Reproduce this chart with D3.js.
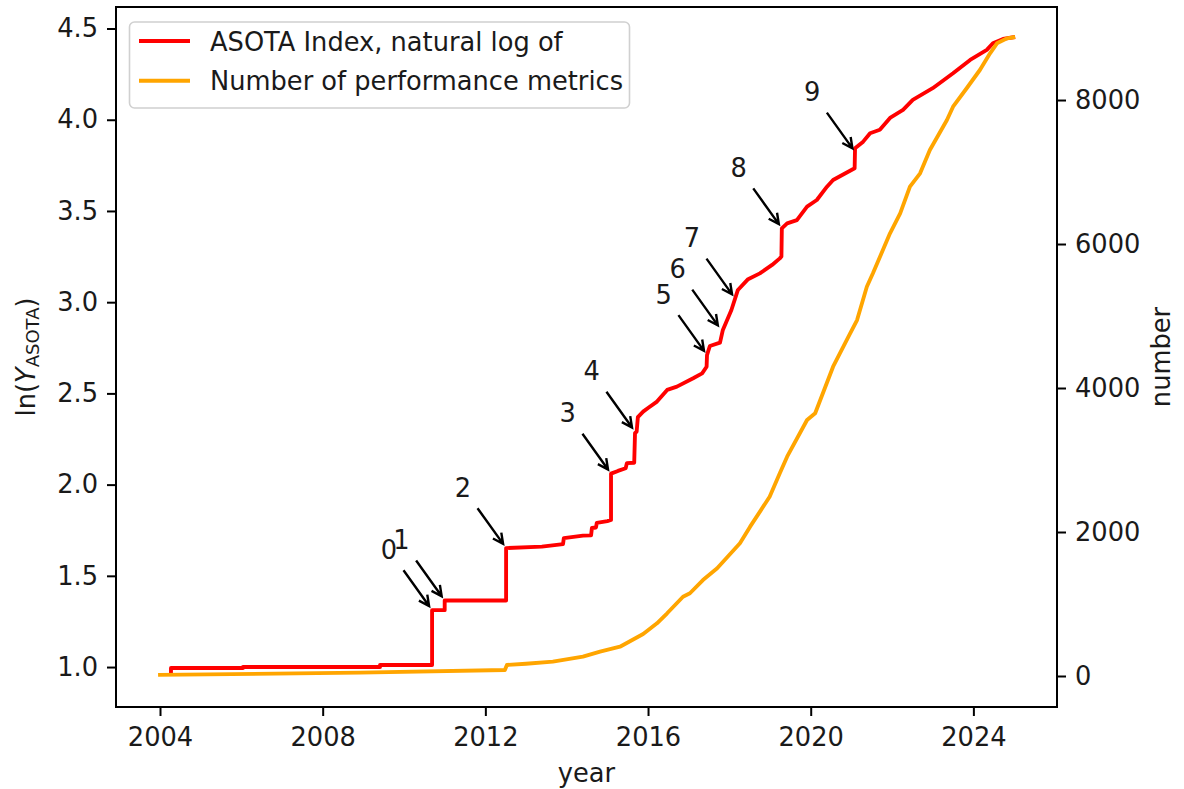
<!DOCTYPE html>
<html>
<head>
<meta charset="utf-8">
<script src="https://cdn.jsdelivr.net/npm/d3@7"></script>
<style>
  body { margin: 0; background: #fff; }
  svg { display: block; font-family: "DejaVu Sans", sans-serif; }
  .tick text { font-size: 25.7px; fill: #1a1a1a; }
</style>
</head>
<body>
<svg width="1184" height="789"></svg>
<script>
// ASOTA index (natural log), step vertices [year, ln value]
const asotaIndex = [
  [2004.27, 0.962], [2004.27, 0.995], [2006.04, 0.995], [2006.04, 1.0], [2009.41, 1.0],
  [2009.41, 1.011], [2010.69, 1.011], [2010.69, 1.312], [2011.0, 1.312], [2011.0, 1.365],
  [2012.51, 1.365], [2012.51, 1.652], [2013.39, 1.66], [2013.91, 1.674], [2013.93, 1.707],
  [2014.4, 1.72], [2014.6, 1.722], [2014.62, 1.762], [2014.72, 1.765], [2014.74, 1.79],
  [2015.0, 1.8], [2015.09, 1.806], [2015.09, 2.06], [2015.26, 2.075], [2015.45, 2.09],
  [2015.48, 2.118], [2015.66, 2.12], [2015.68, 2.283], [2015.72, 2.29], [2015.75, 2.37],
  [2015.88, 2.4], [2016.0, 2.42], [2016.22, 2.455], [2016.47, 2.519], [2016.71, 2.537],
  [2017.11, 2.583], [2017.33, 2.61], [2017.44, 2.646], [2017.45, 2.71], [2017.52, 2.76],
  [2017.77, 2.778], [2017.84, 2.848], [2018.05, 2.957], [2018.21, 3.067], [2018.46, 3.126],
  [2018.75, 3.158], [2019.05, 3.204], [2019.24, 3.24], [2019.28, 3.25], [2019.29, 3.405],
  [2019.42, 3.432], [2019.66, 3.45], [2019.91, 3.524], [2020.15, 3.56], [2020.4, 3.633],
  [2020.55, 3.67], [2021.08, 3.734], [2021.09, 3.844], [2021.29, 3.88], [2021.46, 3.926],
  [2021.7, 3.945], [2021.95, 4.01], [2022.27, 4.054], [2022.51, 4.109], [2023.0, 4.173],
  [2023.5, 4.255], [2023.92, 4.328], [2024.33, 4.383], [2024.48, 4.419], [2024.73, 4.443],
  [2024.98, 4.452]
];

// cumulative number of performance metrics [year, count]
const metricCount = [
  [2004.0, 15], [2008.92, 46], [2012.48, 83], [2012.53, 153], [2013.0, 170], [2013.66, 199],
  [2014.4, 268], [2014.82, 338], [2015.31, 407], [2015.88, 583], [2016.22, 732],
  [2016.47, 871], [2016.86, 1101], [2017.03, 1149], [2017.35, 1333], [2017.7, 1496],
  [2018.26, 1843], [2018.51, 2074], [2018.99, 2490], [2019.24, 2815], [2019.42, 3046],
  [2019.91, 3556], [2020.11, 3649], [2020.55, 4296], [2020.97, 4760], [2021.14, 4944],
  [2021.38, 5407], [2021.53, 5593], [2021.95, 6149], [2022.2, 6426], [2022.44, 6796],
  [2022.69, 6982], [2022.93, 7306], [2023.35, 7722], [2023.5, 7907], [2023.84, 8167],
  [2024.16, 8417], [2024.41, 8649], [2024.58, 8788], [2024.83, 8857], [2024.98, 8871]
];

// annotated jumps
const annLabels = ['0', '1', '2', '3', '4', '5', '6', '7', '8', '9'];
const annYears = [2010.69, 2011.0, 2012.51, 2015.09, 2015.68, 2017.45, 2017.79, 2018.14, 2019.29, 2021.1];
const annValues = [1.312, 1.365, 1.652, 2.06, 2.29, 2.71, 2.85, 3.02, 3.405, 3.82];

const xTicks = [2004, 2008, 2012, 2016, 2020, 2024];
const yTicks = [1.0, 1.5, 2.0, 2.5, 3.0, 3.5, 4.0, 4.5];
const y2Ticks = [0, 2000, 4000, 6000, 8000];

const seriesNames = ['ASOTA Index, natural log of', 'Number of performance metrics'];
const seriesColors = ['red', 'orange'];

const pt = 2.57; // px per point
const plotL = 116, plotR = 1057, plotT = 7, plotB = 707;

const svg = d3.select('svg');

const x = d3.scaleLinear().domain([2002.918, 2026.056]).range([plotL, plotR]);
const y = d3.scaleLinear().domain([0.781, 4.618]).range([plotB, plotT]);
const y2 = d3.scaleLinear().domain([-430.6, 9292]).range([plotB, plotT]);

// axes
const gx = svg.append('g')
  .attr('transform', `translate(0,${plotB})`)
  .call(d3.axisBottom(x).tickValues(xTicks).tickFormat(d3.format('d')).tickSize(9).tickPadding(9));
gx.selectAll('text').attr('y', 39).attr('dy', null);

const gy = svg.append('g')
  .attr('transform', `translate(${plotL},0)`)
  .call(d3.axisLeft(y).tickValues(yTicks).tickFormat(d3.format('.1f')).tickSize(9).tickPadding(9));

const gy2 = svg.append('g')
  .attr('transform', `translate(${plotR},0)`)
  .call(d3.axisRight(y2).tickValues(y2Ticks).tickFormat(d3.format('d')).tickSize(9).tickPadding(9));

[gx, gy, gy2].forEach((g) => {
  g.select('.domain').remove();
  g.selectAll('.tick line').attr('stroke', '#000').attr('stroke-width', 2);
  g.attr('font-family', null).attr('font-size', null);
});

// lines
const redLine = d3.line().x(d => x(d[0])).y(d => y(d[1]));
const orangeLine = d3.line().x(d => x(d[0])).y(d => y2(d[1]));

svg.append('path')
  .datum(asotaIndex)
  .attr('d', redLine)
  .attr('fill', 'none')
  .attr('stroke', seriesColors[0])
  .attr('stroke-width', 1.5 * pt)
  .attr('stroke-linejoin', 'round')
  .attr('stroke-linecap', 'square');

svg.append('path')
  .datum(metricCount)
  .attr('d', orangeLine)
  .attr('fill', 'none')
  .attr('stroke', seriesColors[1])
  .attr('stroke-width', 1.5 * pt)
  .attr('stroke-linejoin', 'round')
  .attr('stroke-linecap', 'square');

// annotations
const ann = svg.append('g');
annLabels.forEach((lab, i) => {
  const px = x(annYears[i]);
  const py = y(annValues[i]);
  const t = ann.append('text')
    .attr('x', px - 20 * pt)
    .attr('y', py - 20 * pt)
    .attr('font-size', 25.7)
    .attr('fill', '#1a1a1a')
    .text(lab);
  const bb = t.node().getBBox();
  const cx = bb.x + bb.width / 2;
  const cy = bb.y + bb.height / 2;
  let dx = px - cx, dy = py - cy;
  const len = Math.hypot(dx, dy);
  dx /= len; dy /= len;
  // leave the text box along the arrow direction
  const tx = dx !== 0 ? (bb.width / 2) / Math.abs(dx) : Infinity;
  const ty = dy !== 0 ? (bb.height / 2) / Math.abs(dy) : Infinity;
  const s0 = Math.min(tx, ty) + 2 * pt + 6;
  const sx = cx + dx * s0, sy = cy + dy * s0;
  const ex = px - dx * 2 * pt, ey = py - dy * 2 * pt;
  const hl = 0.4 * 25.7, hw = 0.2 * 25.7;
  const bx = ex - dx * hl, by = ey - dy * hl;
  ann.append('path')
    .attr('d', `M${sx},${sy}L${ex},${ey}M${bx - dy * hw},${by + dx * hw}L${ex},${ey}L${bx + dy * hw},${by - dx * hw}`)
    .attr('fill', 'none')
    .attr('stroke', '#000')
    .attr('stroke-width', 2.4);
});

// frame
svg.append('rect')
  .attr('x', plotL).attr('y', plotT)
  .attr('width', plotR - plotL).attr('height', plotB - plotT)
  .attr('fill', 'none')
  .attr('stroke', '#000')
  .attr('stroke-width', 2);

// legend
const lg = svg.append('g');
lg.append('rect')
  .attr('x', 129.5).attr('y', 22)
  .attr('width', 500).attr('height', 86)
  .attr('rx', 5)
  .attr('fill', 'rgba(255,255,255,0.8)')
  .attr('stroke', '#d0d0d0')
  .attr('stroke-width', 1.6);
seriesNames.forEach((name, i) => {
  const ly = 41 + i * 39.7;
  lg.append('line')
    .attr('x1', 139).attr('x2', 190)
    .attr('y1', ly).attr('y2', ly)
    .attr('stroke', seriesColors[i])
    .attr('stroke-width', 1.5 * pt);
  lg.append('text')
    .attr('x', 210).attr('y', ly + 9.5)
    .attr('font-size', 25.7)
    .attr('fill', '#1a1a1a')
    .text(name);
});

// axis labels
svg.append('text')
  .attr('x', (plotL + plotR) / 2).attr('y', 782)
  .attr('text-anchor', 'middle')
  .attr('font-size', 25.7)
  .attr('fill', '#1a1a1a')
  .text('year');

const yl = svg.append('text')
  .attr('transform', `translate(35,${(plotT + plotB) / 2}) rotate(-90)`)
  .attr('text-anchor', 'middle')
  .attr('font-size', 25.7)
  .attr('fill', '#1a1a1a');
yl.append('tspan').text('ln(');
yl.append('tspan').attr('font-style', 'italic').text('Y');
yl.append('tspan').attr('font-size', 18).attr('dy', 4).text('ASOTA');
yl.append('tspan').attr('dy', -4).text(')');

svg.append('text')
  .attr('transform', `translate(1170,${(plotT + plotB) / 2}) rotate(-90)`)
  .attr('text-anchor', 'middle')
  .attr('font-size', 25.7)
  .attr('fill', '#1a1a1a')
  .text('number');
</script>
</body>
</html>
